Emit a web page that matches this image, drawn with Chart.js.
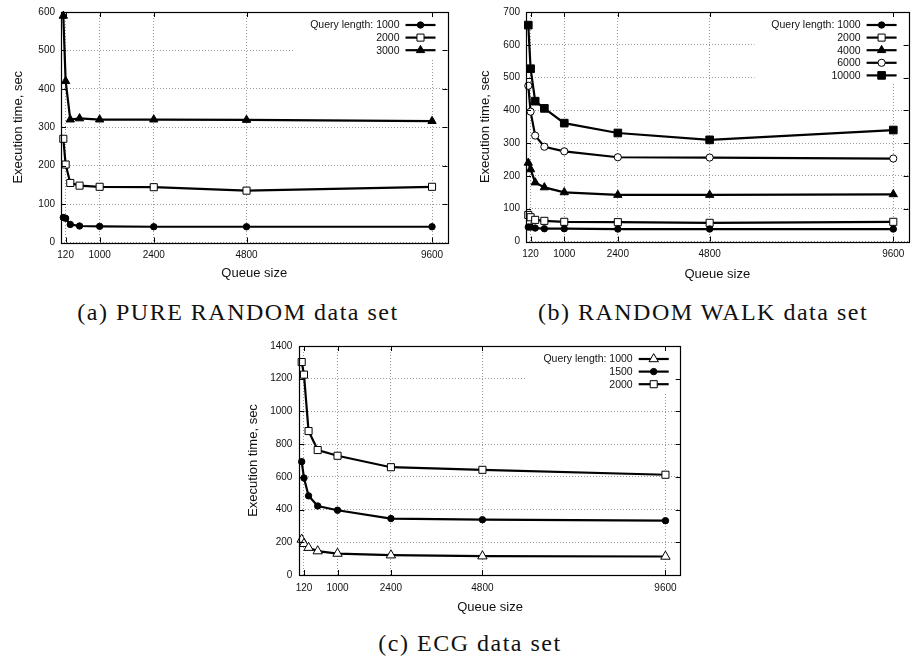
<!DOCTYPE html>
<html>
<head>
<meta charset="utf-8">
<script src="https://cdn.jsdelivr.net/npm/chart.js@4.4.1/dist/chart.umd.min.js"></script>
<style>
  html, body { margin: 0; padding: 0; background: #fff; }
  #page { position: relative; width: 915px; height: 661px; overflow: hidden; }
  canvas { position: absolute; }
  .caption {
    position: absolute;
    font-family: 'Liberation Serif', 'Times New Roman', serif;
    font-size: 24px;
    line-height: 1;
    letter-spacing: 1.5px;
    color: #111;
    white-space: nowrap;
    transform: translateX(-50%);
  }
</style>
</head>
<body>
<div id="page">
  <canvas id="pure" width="458" height="292" style="left:0;top:0"></canvas>
  <canvas id="walk" width="450" height="292" style="left:465px;top:0"></canvas>
  <canvas id="ecg" width="460" height="292" style="left:230px;top:333px"></canvas>
  <div class="caption" style="left:238px;top:300px">(a) PURE RANDOM data set</div>
  <div class="caption" style="left:703px;top:300px">(b) RANDOM WALK data set</div>
  <div class="caption" style="left:470px;top:631px">(c) ECG data set</div>
</div>
<script>
// queue sizes measured in every experiment
const queueSizes = [60, 120, 240, 480, 1000, 2400, 4800, 9600]
const queueTicks = [120, 1000, 2400, 4800, 9600]

// (a) PURE RANDOM
const pureLabels = ['Query length: 1000', '2000', '3000']
const pure1000 = [65, 63, 47, 43, 42, 41, 41, 41]
const pure2000 = [270, 203, 155, 148, 145, 144, 135, 145]
const pure3000 = [590, 420, 320, 323, 320, 320, 319, 316]
const pureYTicks = [0, 100, 200, 300, 400, 500, 600]

// (b) RANDOM WALK
const walkLabels = ['Query length: 1000', '2000', '4000', '6000', '10000']
const walk1000 = [44, 44, 41, 39, 39, 38, 38, 38]
const walk2000 = [81, 74, 66, 63, 60, 59, 57, 60]
const walk4000 = [240, 220, 180, 165, 150, 142, 142, 144]
const walk6000 = [475, 396, 323, 289, 275, 257, 256, 253]
const walk10000 = [660, 527, 428, 406, 361, 331, 310, 340]
const walkYTicks = [0, 100, 200, 300, 400, 500, 600, 700]

// (c) ECG
const ecgLabels = ['Query length: 1000', '1500', '2000']
const ecg1000 = [217, 191, 167, 146, 131, 121, 115, 113]
const ecg1500 = [693, 593, 484, 422, 396, 345, 338, 332]
const ecg2000 = [1302, 1225, 880, 764, 729, 659, 643, 613]
const ecgYTicks = [0, 200, 400, 600, 800, 1000, 1200, 1400]

const FONT = "'Liberation Sans', Arial, sans-serif"
const INK = '#111'

const markers = {
  dot: { pointStyle: 'circle', fill: '#000', r: 3.2 },
  ring: { pointStyle: 'circle', fill: '#fff', r: 3.6 },
  box: { pointStyle: 'rect', fill: '#fff', r: 5 },
  block: { pointStyle: 'rect', fill: '#000', r: 5.4 },
  tri: { pointStyle: 'triangle', fill: '#000', r: 4.8 },
  openTri: { pointStyle: 'triangle', fill: '#fff', r: 5.4 }
}

const drawMarker = (ctx, m, x, y) => {
  ctx.beginPath()
  if (m.pointStyle === 'circle') {
    ctx.arc(x, y, m.r, 0, Math.PI * 2)
  } else if (m.pointStyle === 'rect') {
    const s = m.r * Math.SQRT1_2
    ctx.rect(x - s, y - s, 2 * s, 2 * s)
  } else {
    for (let k = 0; k < 3; k++) {
      const a = k * 2 * Math.PI / 3
      const px = x + Math.sin(a) * m.r
      const py = y - Math.cos(a) * m.r
      k === 0 ? ctx.moveTo(px, py) : ctx.lineTo(px, py)
    }
    ctx.closePath()
  }
  ctx.fillStyle = m.fill
  ctx.fill()
  ctx.lineWidth = 1
  ctx.strokeStyle = '#000'
  ctx.stroke()
}

// gnuplot look: blanked key box, full frame with inward ticks, key drawn inside
const gnuplotFrame = {
  id: 'gnuplotFrame',
  beforeDatasetsDraw (chart) {
    const { ctx, chartArea: a } = chart
    const rows = chart.data.datasets.length
    ctx.save()
    ctx.fillStyle = '#fff'
    ctx.fillRect(a.right - 154, a.top + 1, 153, rows * 12.6 + 8)
    ctx.restore()
  },
  afterDatasetsDraw (chart) {
    const { ctx, chartArea: a, scales } = chart
    ctx.save()
    ctx.strokeStyle = '#000'
    ctx.lineWidth = 1.2
    ctx.strokeRect(Math.round(a.left) + 0.5, Math.round(a.top) + 0.5,
      Math.round(a.right - a.left), Math.round(a.bottom - a.top))
    ctx.lineWidth = 1
    ctx.beginPath()
    scales.x.ticks.forEach(t => {
      const px = Math.round(scales.x.getPixelForValue(t.value)) + 0.5
      ctx.moveTo(px, a.bottom); ctx.lineTo(px, a.bottom - 5)
      ctx.moveTo(px, a.top); ctx.lineTo(px, a.top + 5)
    })
    scales.y.ticks.forEach(t => {
      const py = Math.round(scales.y.getPixelForValue(t.value)) + 0.5
      ctx.moveTo(a.left, py); ctx.lineTo(a.left + 5, py)
      ctx.moveTo(a.right, py); ctx.lineTo(a.right - 5, py)
    })
    ctx.stroke()

    // key
    ctx.font = '10.5px ' + FONT
    ctx.textAlign = 'right'
    ctx.textBaseline = 'middle'
    chart.data.datasets.forEach((ds, i) => {
      const y = a.top + 13 + i * 12.6
      ctx.fillStyle = INK
      ctx.fillText(ds.label, a.right - 48, y + 0.5)
      ctx.beginPath()
      ctx.lineWidth = 2.2
      ctx.strokeStyle = '#000'
      ctx.moveTo(a.right - 42, y); ctx.lineTo(a.right - 12, y)
      ctx.stroke()
      drawMarker(ctx, ds.marker, a.right - 27, y)
    })
    ctx.restore()
  }
}

const makeChart = (id, labels, series, marks, yTicks, geo) => {
  const datasets = series.map((values, i) => {
    const m = markers[marks[i]]
    return {
      label: labels[i],
      marker: m,
      data: values.map((v, j) => ({ x: queueSizes[j], y: v })),
      borderColor: '#000',
      borderWidth: 2.2,
      tension: 0,
      fill: false,
      clip: false,
      pointStyle: m.pointStyle,
      pointRadius: m.r,
      pointHoverRadius: m.r,
      pointBackgroundColor: m.fill,
      pointBorderColor: '#000',
      pointBorderWidth: 1
    }
  })

  return new Chart(document.getElementById(id), {
    type: 'line',
    data: { datasets },
    options: {
      responsive: false,
      animation: false,
      events: [],
      layout: { padding: { top: geo.top, right: geo.right, left: 0, bottom: 0 } },
      plugins: { legend: { display: false }, tooltip: { enabled: false } },
      scales: {
        x: {
          type: 'linear',
          min: 0,
          max: 10000,
          afterBuildTicks: s => { s.ticks = queueTicks.map(v => ({ value: v })) },
          afterFit: s => { s.height = geo.xh },
          grid: { color: '#9a9a9a', lineWidth: 1, drawTicks: false },
          border: { display: false, dash: [1, 2] },
          ticks: {
            font: { family: FONT, size: 10 },
            color: INK,
            padding: geo.xPad,
            maxRotation: 0,
            autoSkip: false,
            callback: v => String(v)
          },
          title: {
            display: true,
            text: 'Queue size',
            color: INK,
            font: { family: FONT, size: 13, lineHeight: 1 },
            padding: { top: 0, bottom: geo.xTitle }
          }
        },
        y: {
          min: yTicks[0],
          max: yTicks[yTicks.length - 1],
          afterBuildTicks: s => { s.ticks = yTicks.map(v => ({ value: v })) },
          afterFit: s => { s.width = geo.left },
          grid: { color: '#9a9a9a', lineWidth: 1, drawTicks: false },
          border: { display: false, dash: [1, 2] },
          ticks: {
            font: { family: FONT, size: 10 },
            color: INK,
            padding: geo.yPad,
            callback: v => String(v)
          },
          title: {
            display: true,
            text: 'Execution time, sec',
            color: INK,
            font: { family: FONT, size: 13, lineHeight: 1 },
            padding: { top: geo.yTitle, bottom: 0 }
          }
        }
      }
    },
    plugins: [gnuplotFrame]
  })
}

makeChart('pure', pureLabels, [pure1000, pure2000, pure3000],
  ['dot', 'box', 'tri'], pureYTicks,
  { top: 9.5, right: 10.5, left: 61, xh: 49.5, xPad: 7, xTitle: 12.5, yPad: 6, yTitle: 11.5 })

makeChart('walk', walkLabels, [walk1000, walk2000, walk4000, walk6000, walk10000],
  ['dot', 'box', 'tri', 'ring', 'block'], walkYTicks,
  { top: 9.5, right: 2, left: 61, xh: 50.5, xPad: 7, xTitle: 11.5, yPad: 6, yTitle: 13.5 })

makeChart('ecg', ecgLabels, [ecg1000, ecg1500, ecg2000],
  ['openTri', 'dot', 'box'], ecgYTicks,
  { top: 9.7, right: 9.3, left: 69.4, xh: 50, xPad: 7, xTitle: 10.8, yPad: 7, yTitle: 16.5 })
</script>
</body>
</html>
